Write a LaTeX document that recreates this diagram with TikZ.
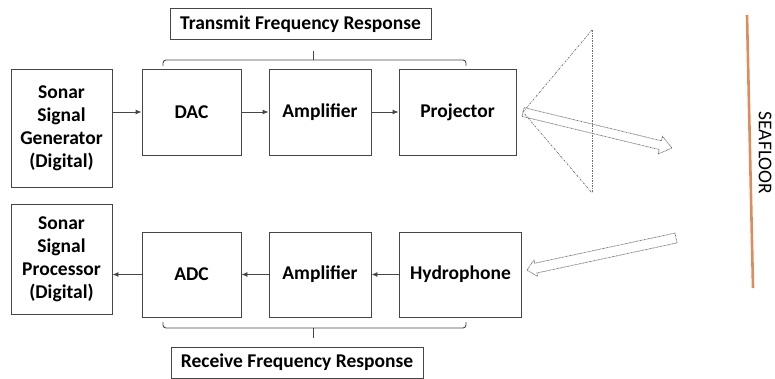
\documentclass[tikz,border=0pt]{standalone}
\usepackage{fontspec}
\setmainfont{Carlito}
\usetikzlibrary{calc,arrows.meta}
\definecolor{boxline}{RGB}{70,70,70}
\definecolor{seafloorc}{RGB}{222,140,92}
\definecolor{beamc}{RGB}{110,110,110}
\tikzset{
  blk/.style={draw=boxline, line width=0.9pt, inner sep=0pt, align=center,
    font=\fontsize{19.5}{23}\selectfont\bfseries},
  lbl/.style={draw=boxline, line width=0.9pt, inner sep=0pt,
    font=\fontsize{19.5}{22}\selectfont\bfseries},
  flow/.style={draw=boxline, line width=0.9pt, -{Latex[length=6pt,width=5pt]}},
  brace/.style={draw=boxline, line width=0.9pt, rounded corners=3pt},
  beam/.style={draw=beamc, line width=0.7pt, dash pattern=on 2pt off 1.2pt on 0.6pt off 1.2pt},
  blockarrow/.style={draw=beamc, line width=0.7pt, dash pattern=on 0.8pt off 0.6pt, line join=miter},
}
\begin{document}
\begin{tikzpicture}[x=1pt,y=-1pt]
\useasboundingbox (0,0) rectangle (775,379);
% transmit chain
\node[blk, minimum width=101, minimum height=118] (gen) at (61.5,128) {Sonar\\Signal\\Generator\\(Digital)};
\node[blk, minimum width=99, minimum height=86] (dac) at (191.5,112) {DAC};
\node[blk, minimum width=102, minimum height=86] (amp1) at (320,112) {Amplifier};
\node[blk, minimum width=117, minimum height=86] (proj) at (457.5,112) {Projector};
% receive chain
\node[blk, minimum width=101, minimum height=110] (proc) at (61.5,259) {Sonar\\Signal\\Processor\\(Digital)};
\node[blk, minimum width=99, minimum height=85] (adc) at (191.5,274.5) {ADC};
\node[blk, minimum width=102, minimum height=85] (amp2) at (320,274.5) {Amplifier};
\node[blk, minimum width=122, minimum height=85] (hyd) at (460.5,274.5) {Hydrophone};
% labels
\node[lbl, minimum width=261, minimum height=31] (tlab) at (300.5,24) {Transmit Frequency Response};
\node[lbl, minimum width=252, minimum height=31] (rlab) at (297,362.5) {Receive Frequency Response};
% arrows
\draw[flow] (gen.east |- dac.west) -- (dac.west);
\draw[flow] (dac.east) -- (amp1.west);
\draw[flow] (amp1.east) -- (proj.west);
\draw[flow] (hyd.west) -- (amp2.east);
\draw[flow] (amp2.west) -- (adc.east);
\draw[flow] (adc.west) -- (adc.west -| proc.east);
% braces
\draw[brace] (163,66) -- (163,60) -- (466,60) -- (466,66);
\draw[draw=boxline, line width=0.9pt] (313,60) -- (313,51);
\draw[brace] (163,322) -- (163,328) -- (466,328) -- (466,322);
\draw[draw=boxline, line width=0.9pt] (313,328) -- (313,338);
% beam
\coordinate (apex) at (523,112);
\coordinate (btop) at (592,30);
\coordinate (bbot) at (592,193);
\draw[beam] (btop) -- (apex) -- (bbot);
\draw[beam] (btop) -- (bbot);
% outgoing block arrow
\coordinate (tip1) at (672,148);
\coordinate (neck1) at ($(tip1)!12pt!(apex)$);
\draw[blockarrow] ($(apex)!4.5pt!90:(tip1)$) -- ($(neck1)!4.5pt!-90:(apex)$) -- ($(neck1)!9pt!-90:(apex)$) -- (tip1)
  -- ($(neck1)!9pt!90:(apex)$) -- ($(neck1)!4.5pt!90:(apex)$) -- ($(apex)!4.5pt!-90:(tip1)$) -- cycle;
% incoming block arrow
\coordinate (tail2) at (676,238);
\coordinate (tip2) at (527,270);
\coordinate (neck2) at ($(tip2)!9pt!(tail2)$);
\draw[blockarrow] ($(tail2)!5pt!90:(tip2)$) -- ($(neck2)!5pt!-90:(tail2)$) -- ($(neck2)!8.5pt!-90:(tail2)$) -- (tip2)
  -- ($(neck2)!8.5pt!90:(tail2)$) -- ($(neck2)!5pt!90:(tail2)$) -- ($(tail2)!5pt!-90:(tip2)$) -- cycle;
% seafloor
\coordinate (sf1) at (747,15);
\coordinate (sf2) at (753,288);
\draw[seafloorc, line width=2.6pt] (sf1) -- (sf2);
\node[rotate=-90, font=\fontsize{19.5}{22}\selectfont] (sflab) at (765,153) {SEAFLOOR};
\end{tikzpicture}
\end{document}
